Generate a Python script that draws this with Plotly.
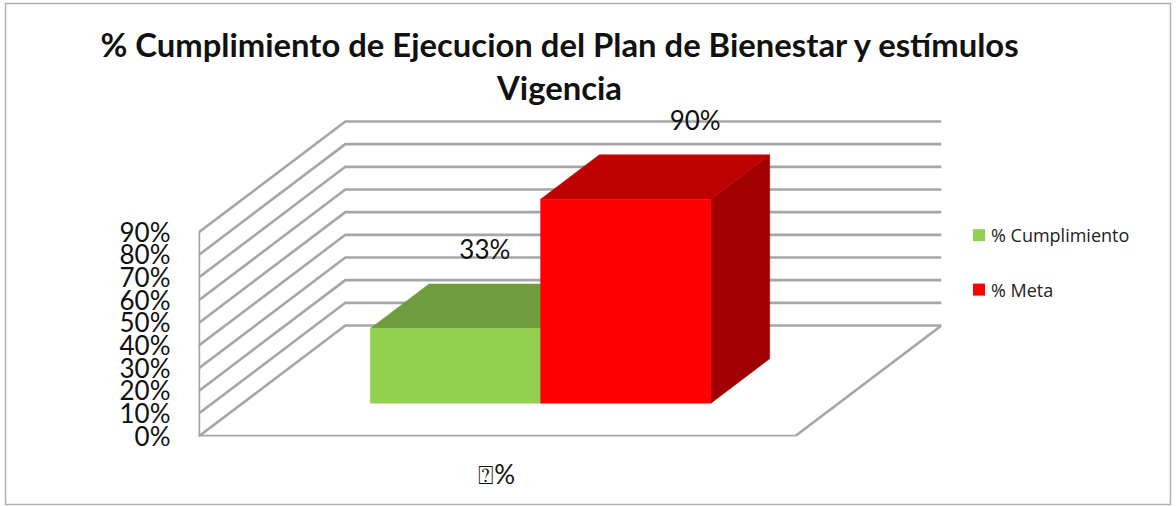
import plotly.graph_objects as go

# ---- data ----
series_names = ["% Cumplimiento", "% Meta"]
series_values = [33, 90]
category_label = "⍰%"
y_tick_values = [0, 10, 20, 30, 40, 50, 60, 70, 80, 90]
y_tick_labels = ["0%", "10%", "20%", "30%", "40%", "50%", "60%", "70%", "80%", "90%"]
title_lines = ["% Cumplimiento de Ejecucion del Plan de Bienestar y estímulos", "Vigencia"]

# ---- style ----
front_colors = ["#92D050", "#FF0000"]
top_colors = ["#6F9D3D", "#BF0000"]
side_colors = ["#5F8A34", "#A00000"]
grid_color = "#A6A6A6"
FONT = "Lato, Carlito, sans-serif"
W, H = 1176, 506

# ---- oblique 3D frame, in axis units (bar widths on x, percent on y) ----
CAT_W = 3.5          # category width: gap 150% -> 0.75 + 2 bars + 0.75
GAP = 0.75
DX, DY = 0.862, 48.97  # full depth shift of the floor, axis units
D0, D1 = 0.30, 0.70    # bars occupy this part of the depth
Y_TOP = max(y_tick_values)
Y_MAX = 165.0          # head room so the upper data label stays in range


def proj(x, y, d):
    return x + DX * d, y + DY * d


def poly(points):
    pts = [proj(*p) for p in points]
    pts.append(pts[0])
    return [p[0] for p in pts], [p[1] for p in pts]


fig = go.Figure()


def line(points, width=2.6):
    xs, ys = zip(*[proj(*p) for p in points])
    fig.add_trace(go.Scatter(x=xs, y=ys, mode="lines", showlegend=False, hoverinfo="skip",
                             line=dict(color=grid_color, width=width), cliponaxis=False))


# walls and gridlines
for v in y_tick_values:
    line([(0, v, 0), (0, v, 1), (CAT_W, v, 1)])
line([(0, 0, 0), (0, Y_TOP, 0)], 3.4)
line([(0, 0, 0), (CAT_W, 0, 0)], 3.4)
line([(CAT_W, 0, 0), (CAT_W, 0, 1)], 2.6)

# bars
for i, v in enumerate(series_values):
    x0, x1 = GAP + i, GAP + i + 1
    faces = [
        ([(x1, 0, D0), (x1, 0, D1), (x1, v, D1), (x1, v, D0)], side_colors[i]),
        ([(x0, v, D0), (x1, v, D0), (x1, v, D1), (x0, v, D1)], top_colors[i]),
        ([(x0, 0, D0), (x1, 0, D0), (x1, v, D0), (x0, v, D0)], front_colors[i]),
    ]
    for pts, col in faces:
        xs, ys = poly(pts)
        fig.add_trace(go.Scatter(x=xs, y=ys, mode="lines", fill="toself", fillcolor=col,
                                 line=dict(color=col, width=0.5), showlegend=False,
                                 hoverinfo="skip", cliponaxis=False))

# data labels
label_shift = [0.0, 0.235]
for i, v in enumerate(series_values):
    lx, ly = proj(GAP + i + 0.5 + label_shift[i], v + 23.6, 0.5)
    fig.add_trace(go.Scatter(x=[lx], y=[ly], mode="text", text=[f"{v}%"], showlegend=False,
                             textposition="middle center", hoverinfo="skip", cliponaxis=False,
                             textfont=dict(family=FONT, size=26, color="#111111")))

# legend
for name, col in zip(series_names, front_colors):
    fig.add_trace(go.Scatter(x=[None], y=[None], mode="markers", name=name, legendgroup=name,
                             marker=dict(symbol="square", size=12, color=col)))

BASE_Y = 436.5
PX_PER_UNIT = (436 - 232) / Y_TOP
fig.update_layout(
    width=W, height=H, margin=dict(l=0, r=0, t=0, b=0),
    paper_bgcolor="white", plot_bgcolor="white",
    title=dict(text="<br>".join(title_lines), x=559.5 / W, xanchor="center", y=1 - 57 / H, yanchor="middle",
               font=dict(family=FONT, size=32.8, color="#111111", weight="bold")),
    xaxis=dict(domain=[198.5 / W, 941.5 / W], range=[0, CAT_W + DX], showgrid=False, zeroline=False, showline=False,
               automargin=False,
               tickmode="array", tickvals=[CAT_W / 2], ticktext=[category_label], ticks="",
               ticklabelstandoff=20, tickfont=dict(family=FONT, size=26, color="#111111")),
    yaxis=dict(domain=[(H - BASE_Y) / H, (H - (BASE_Y - Y_MAX * PX_PER_UNIT)) / H], range=[0, Y_MAX], showgrid=False,
               automargin=False,
               zeroline=False, showline=False, tickmode="array", tickvals=y_tick_values, ticktext=y_tick_labels,
               ticks="", ticklabelstandoff=27, tickfont=dict(family=FONT, size=26, color="#111111")),
    legend=dict(x=951 / W, y=1 - 217 / H, xanchor="left", yanchor="top", tracegroupgap=28, itemsizing="constant",
                bgcolor="rgba(0,0,0,0)", font=dict(family="Open Sans, sans-serif", size=18, color="#222222")),
    shapes=[dict(type="rect", xref="paper", yref="paper", x0=5.5 / W, x1=1170.5 / W, y0=1 - 504.5 / H, y1=1 - 3.5 / H,
                 line=dict(color="#B0B0B0", width=1.5), fillcolor="rgba(0,0,0,0)", layer="below")],
    showlegend=True,
)

post = """
document.body.style.margin='0';
document.querySelectorAll('.legendsymbols').forEach(function(el){el.setAttribute('transform','translate(8,0)');});
"""
fig.write_html("out.html", post_script=post, config={"displayModeBar": False})
